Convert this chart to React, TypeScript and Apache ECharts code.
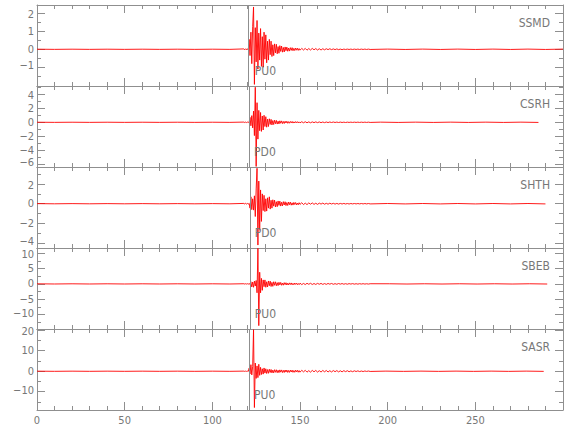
import React, { useEffect, useRef } from "react";
import * as echarts from "echarts";

// ---------- data ----------
const STATIONS = ["SSMD", "CSRH", "SHTH", "SBEB", "SASR"];
const PICK_LABELS = ["PU0", "PD0", "PD0", "PU0", "PU0"];
const ARRIVALS = [120.7, 121.3, 121.7, 121.7, 121.2];
const LABEL_TIMES = [124.2, 123.8, 124.2, 124.2, 123.8];
const Y_MIN = [-2.04, -6.38, -4.5, -14.7, -18.9];
const Y_MAX = [2.46, 5.18, 3.73, 11.7, 20.6];
const Y_TICKS = [
  [-1, 0, 1, 2],
  [-6, -4, -2, 0, 2, 4],
  [-4, -2, 0, 2],
  [-10, -5, 0, 5, 10],
  [-10, 0, 10, 20],
];
const Y_MINOR = [
  [-1.5, -0.5, 0.5, 1.5],
  [-5, -3, -1, 1, 3, 5],
  [-3, -1, 1, 3],
  [-12.5, -7.5, -2.5, 2.5, 7.5],
  [-15, -5, 5, 15],
];
const X_MIN = 0;
const X_MAX = 300;
const X_STEP = 50;

// time sampling of the trace segments (seconds)
const PRE_T0 = 0;
const PRE_DT = 10;
const BURST_T0 = 118;
const BURST_DT = 0.5;
const CODA_T0 = 151;
const CODA_DT = 1;
const TAIL_DT = 10;
const TRACE_END = [300, 286, 290, 291, 289];

const SSMD_PRE = [0.005, -0.005, 0.005, -0.005, 0.005, -0.005, 0.005, -0.005, 0.005, -0.005, 0.005, -0.005];
const SSMD_BURST = [
  0.02, -0.03, 0.03, -0.02, 0.03, -0.04, 0.55, -0.35, 0.95, -0.8,
  1.25, 2.35, -1.95, 1.2, -0.7, 1.6, -1.1, 0.9, -0.6, 1.15,
  -0.95, 0.7, -1.0, 0.95, -0.55, 0.8, -0.75, 0.45, -0.6, 0.55,
  -0.3, 0.45, -0.4, 0.25, -0.35, 0.3, -0.2, 0.28, -0.25, 0.15,
  -0.22, 0.2, -0.12, 0.18, -0.16, 0.1, -0.15, 0.13, -0.08, 0.12,
  -0.11, 0.07, -0.1, 0.09, -0.06, 0.09, -0.08, 0.05, -0.07, 0.07,
  -0.05, 0.06, -0.06, 0.04, -0.05,
];
const SSMD_CODA = [
  0.05, -0.04, 0.05, -0.05, 0.04, -0.04, 0.05, -0.03, 0.04, -0.04,
  0.03, -0.04, 0.03, -0.03, 0.03, -0.02, 0.03, -0.02, 0.02, -0.02,
  0.02, -0.02, 0.01, -0.02, 0.01, -0.01, 0.01, -0.01, 0.01, -0.01,
  0.01, -0.01, 0.01, -0.01, 0.01, -0.01, 0.01, -0.01, 0.01, -0.01,
];
const SSMD_TAIL = [0.01, -0.01, 0.01, -0.01, 0.01, -0.01, 0.01, -0.01, 0.01, -0.01, 0.01];

const CSRH_PRE = [0.01, -0.01, 0.01, -0.01, 0.01, -0.01, 0.01, -0.01, 0.01, -0.01, 0.01, -0.01];
const CSRH_BURST = [
  0.03, -0.03, 0.03, -0.04, 0.03, -0.03, 0.04, 0.7, -0.5, 0.95,
  -0.8, 1.6, -1.9, 5.0, -6.3, 2.8, -2.4, 1.7, -1.2, 1.4,
  -1.3, 0.9, -1.1, 1.0, -0.6, 0.8, -0.7, 0.45, -0.6, 0.5,
  -0.3, 0.42, -0.38, 0.25, -0.32, 0.3, -0.2, 0.27, -0.25, 0.16,
  -0.23, 0.21, -0.14, 0.2, -0.18, 0.12, -0.17, 0.15, -0.1, 0.15,
  -0.14, 0.09, -0.13, 0.12, -0.08, 0.12, -0.11, 0.07, -0.1, 0.1,
  -0.07, 0.09, -0.09, 0.06, -0.08,
];
const CSRH_CODA = [
  0.08, -0.07, 0.08, -0.07, 0.06, -0.07, 0.06, -0.05, 0.06, -0.05,
  0.05, -0.05, 0.04, -0.05, 0.04, -0.04, 0.04, -0.03, 0.04, -0.03,
  0.03, -0.03, 0.03, -0.03, 0.02, -0.03, 0.02, -0.02, 0.02, -0.02,
  0.02, -0.02, 0.02, -0.02, 0.02, -0.02, 0.02, -0.02, 0.02, -0.02,
];
const CSRH_TAIL = [0.02, -0.02, 0.02, -0.02, 0.02, -0.02, 0.02, -0.02, 0.02, -0.02];

const SHTH_PRE = [0.01, -0.01, 0.01, -0.01, 0.01, -0.01, 0.01, -0.01, 0.01, -0.01, 0.01, -0.01];
const SHTH_BURST = [
  0.03, -0.03, 0.04, -0.03, 0.03, -0.04, 0.04, -0.45, 0.7, -0.6,
  0.5, -0.65, 0.8, -1.3, 1.5, 3.6, -4.2, 2.3, -2.7, 1.4,
  -1.8, 1.0, -0.7, 0.85, -0.8, 0.5, -0.75, 0.6, -0.45, 0.7,
  -0.55, 0.35, -0.45, 0.4, -0.25, 0.36, -0.33, 0.2, -0.3, 0.28,
  -0.17, 0.26, -0.24, 0.15, -0.22, 0.21, -0.13, 0.2, -0.19, 0.12,
  -0.18, 0.17, -0.1, 0.16, -0.15, 0.09, -0.14, 0.13, -0.08, 0.12,
  -0.12, 0.07, -0.11, 0.1, -0.07,
];
const SHTH_CODA = [
  0.1, -0.09, 0.06, -0.09, 0.08, -0.05, 0.08, -0.07, 0.05, -0.07,
  0.06, -0.04, 0.06, -0.05, 0.04, -0.05, 0.05, -0.03, 0.04, -0.04,
  0.03, -0.04, 0.03, -0.03, 0.03, -0.03, 0.02, -0.03, 0.02, -0.02,
  0.02, -0.02, 0.02, -0.02, 0.02, -0.02, 0.02, -0.02, 0.02, -0.02,
];
const SHTH_TAIL = [0.02, -0.02, 0.02, -0.02, 0.02, -0.02, 0.02, -0.02, 0.02, -0.02];

const SBEB_PRE = [0.03, -0.03, 0.03, -0.03, 0.03, -0.03, 0.03, -0.03, 0.03, -0.03, 0.03, -0.03];
const SBEB_BURST = [
  0.05, -0.06, 0.06, -0.05, 0.06, -0.06, 0.05, -0.08, 0.7, -1.0,
  0.6, -1.1, 0.9, -0.7, 1.1, -2.9, 11.6, -13.6, 3.8, -2.9,
  1.8, -2.1, 1.3, -0.9, 1.3, -1.1, 0.7, -1.0, 0.95, -0.6,
  0.9, -0.85, 0.5, -0.8, 0.7, -0.45, 0.68, -0.6, 0.4, -0.55,
  0.52, -0.32, 0.48, -0.45, 0.28, -0.42, 0.4, -0.25, 0.38, -0.36,
  0.22, -0.34, 0.33, -0.2, 0.31, -0.3, 0.18, -0.28, 0.27, -0.16,
  0.26, -0.25, 0.15, -0.24, 0.23,
];
const SBEB_CODA = [
  -0.22, 0.15, -0.21, 0.2, -0.13, 0.2, -0.19, 0.12, -0.18, 0.17,
  -0.11, 0.16, -0.16, 0.1, -0.15, 0.14, -0.09, 0.14, -0.13, 0.08,
  -0.12, 0.12, -0.08, 0.11, -0.1, 0.07, -0.1, 0.09, -0.06, 0.09,
  -0.08, 0.06, -0.08, 0.07, -0.05, 0.07, -0.06, 0.05, -0.06, 0.05,
];
const SBEB_TAIL = [0.04, -0.04, 0.04, -0.04, 0.04, -0.04, 0.04, -0.04, 0.04, -0.04];

const SASR_PRE = [0.04, -0.04, 0.04, -0.04, 0.04, -0.04, 0.04, -0.04, 0.04, -0.04, 0.04, -0.04];
const SASR_BURST = [
  0.06, -0.07, 0.07, -0.06, 0.07, -0.07, 1.5, -1.3, 3.2, -1.8,
  2.4, 20.3, -17.7, 4.0, -3.5, 2.6, -3.1, 3.4, -2.0, 1.9,
  -1.6, 1.2, -1.4, 1.6, -0.9, 1.2, -1.1, 0.8, -1.0, 0.95,
  -0.6, 0.85, -0.8, 0.55, -0.78, 0.75, -0.5, 0.72, -0.7, 0.48,
  -0.68, 0.66, -0.45, 0.64, -0.63, 0.42, -0.6, 0.6, -0.4, 0.58,
  -0.57, 0.38, -0.55, 0.55, -0.36, 0.53, -0.52, 0.34, -0.5, 0.5,
  -0.33, 0.48, -0.48, 0.32, -0.46,
];
const SASR_CODA = [
  0.46, -0.3, 0.45, -0.44, 0.3, -0.43, 0.42, -0.28, 0.41, -0.4,
  0.27, -0.39, 0.38, -0.26, 0.37, -0.36, 0.25, -0.35, 0.34, -0.23,
  0.33, -0.32, 0.22, -0.3, 0.29, -0.2, 0.27, -0.25, 0.17, -0.23,
  0.21, -0.14, 0.19, -0.17, 0.11, -0.15, 0.13, -0.09, 0.11, -0.1,
];
const SASR_TAIL = [0.06, -0.06, 0.06, -0.06, 0.06, -0.06, 0.06, -0.06, 0.06, -0.06];

const TRACES = [
  { pre: SSMD_PRE, burst: SSMD_BURST, coda: SSMD_CODA, tail: SSMD_TAIL },
  { pre: CSRH_PRE, burst: CSRH_BURST, coda: CSRH_CODA, tail: CSRH_TAIL },
  { pre: SHTH_PRE, burst: SHTH_BURST, coda: SHTH_CODA, tail: SHTH_TAIL },
  { pre: SBEB_PRE, burst: SBEB_BURST, coda: SBEB_CODA, tail: SBEB_TAIL },
  { pre: SASR_PRE, burst: SASR_BURST, coda: SASR_CODA, tail: SASR_TAIL },
];

// ---------- styling ----------
const AXIS_COLOR = "#8f8f8f";
const TEXT_COLOR = "#777777";
const WAVE_COLOR = "#ff0000";
const FONT = "'Liberation Sans Narrow', 'DejaVu Sans Condensed', 'Liberation Sans', sans-serif";
const GRID_TOPS = [5, 86, 167, 248, 329];
const GRID_H = 81;

function buildTrace(i: number): [number, number][] {
  const tr = TRACES[i];
  const pts: [number, number][] = [];
  tr.pre.forEach((v, k) => pts.push([PRE_T0 + k * PRE_DT, v]));
  tr.burst.forEach((v, k) => pts.push([BURST_T0 + k * BURST_DT, v]));
  tr.coda.forEach((v, k) => pts.push([CODA_T0 + k * CODA_DT, v]));
  const tailStart = TRACE_END[i] - (tr.tail.length - 1) * TAIL_DT;
  tr.tail.forEach((v, k) => pts.push([tailStart + k * TAIL_DT, v]));
  return pts;
}

const fmt = (v: number) => (v < 0 ? "\u2212" + Math.abs(v) : String(v));

function buildOption() {
  const grid: any[] = [];
  const xAxis: any[] = [];
  const yAxis: any[] = [];
  const series: any[] = [];
  const title: any[] = [];
  const labelFont = { color: TEXT_COLOR, fontFamily: FONT, fontSize: 11 };

  STATIONS.forEach((name, i) => {
    grid.push({ left: 37, right: 17, top: GRID_TOPS[i], height: GRID_H });
    const xBase = {
      gridIndex: i,
      type: "value",
      min: X_MIN,
      max: X_MAX,
      interval: X_STEP,
      axisLine: { show: true, onZero: false, lineStyle: { color: AXIS_COLOR, width: 1 } },
      axisTick: { show: true, inside: true, length: 8, lineStyle: { color: AXIS_COLOR } },
      minorTick: { show: true, splitNumber: 5, length: 4, lineStyle: { color: AXIS_COLOR } },
      splitLine: { show: false },
      minorSplitLine: { show: false },
    };
    xAxis.push({
      ...xBase,
      position: "bottom",
      axisLabel: {
        show: i === STATIONS.length - 1,
        showMaxLabel: false,
        ...labelFont,
        margin: 5,
      },
    });
    xAxis.push({ ...xBase, position: "top", axisLabel: { show: false } });

    const yBase = {
      gridIndex: i,
      type: "value",
      min: Y_MIN[i],
      max: Y_MAX[i],
      splitLine: { show: false },
    };
    const ticks = Y_TICKS[i];
    const lo = Math.min(...ticks);
    const hi = Math.max(...ticks);
    yAxis.push({
      ...yBase,
      position: "left",
      axisLine: { show: true, onZero: false, lineStyle: { color: AXIS_COLOR } },
      axisTick: { show: true, inside: true, length: 8, customValues: ticks, lineStyle: { color: AXIS_COLOR } },
      axisLabel: {
        show: true,
        customValues: ticks,
        formatter: (v: number) =>
          v === lo ? `{lo|${fmt(v)}}` : v === hi ? `{hi|${fmt(v)}}` : fmt(v),
        ...labelFont,
        margin: 3,
        rich: {
          lo: { ...labelFont, padding: [0, 0, 3, 0] },
          hi: { ...labelFont, padding: [3, 0, 0, 0] },
        },
      },
    });
    yAxis.push({
      ...yBase,
      position: "left",
      axisLine: { show: false, onZero: false },
      axisTick: { show: true, inside: true, length: 4, customValues: Y_MINOR[i], lineStyle: { color: AXIS_COLOR } },
      axisLabel: { show: false },
    });
    yAxis.push({
      ...yBase,
      position: "right",
      axisLine: { show: true, onZero: false, lineStyle: { color: AXIS_COLOR } },
      axisTick: { show: true, inside: true, length: 8, customValues: ticks, lineStyle: { color: AXIS_COLOR } },
      axisLabel: { show: false },
    });
    yAxis.push({
      ...yBase,
      position: "right",
      axisLine: { show: false, onZero: false },
      axisTick: { show: true, inside: true, length: 4, customValues: Y_MINOR[i], lineStyle: { color: AXIS_COLOR } },
      axisLabel: { show: false },
    });

    const labelY = Y_MAX[i] - 0.815 * (Y_MAX[i] - Y_MIN[i]);
    series.push({
      type: "line",
      xAxisIndex: 2 * i,
      yAxisIndex: 4 * i,
      data: buildTrace(i),
      showSymbol: false,
      symbol: "none",
      lineStyle: { color: WAVE_COLOR, width: 0.9 },
      itemStyle: { color: WAVE_COLOR },
      clip: true,
      silent: true,
      markLine: {
        silent: true,
        symbol: "none",
        label: { show: false },
        lineStyle: { color: AXIS_COLOR, width: 1, type: "solid" },
        data: [{ xAxis: ARRIVALS[i] }],
      },
      markPoint: {
        silent: true,
        symbol: "circle",
        symbolSize: 0,
        data: [{ coord: [LABEL_TIMES[i], labelY] }],
        label: {
          show: true,
          position: "right",
          distance: 0,
          formatter: PICK_LABELS[i],
          color: TEXT_COLOR,
          fontFamily: FONT,
          fontSize: 12,
        },
      },
    });

    title.push({
      text: name,
      right: 30,
      top: GRID_TOPS[i] + 12,
      padding: 0,
      textStyle: { fontSize: 12, fontWeight: "normal", color: TEXT_COLOR, fontFamily: FONT },
    });
  });

  return { animation: false, backgroundColor: "#ffffff", title, grid, xAxis, yAxis, series };
}

export default function App() {
  const ref = useRef<HTMLDivElement>(null);
  useEffect(() => {
    document.body.style.margin = "0";
    if (!ref.current) return;
    const chart = echarts.init(ref.current, undefined, { renderer: "svg" });
    chart.setOption(buildOption() as any);
    return () => chart.dispose();
  }, []);
  return <div ref={ref} style={{ width: 580, height: 440 }} />;
}
